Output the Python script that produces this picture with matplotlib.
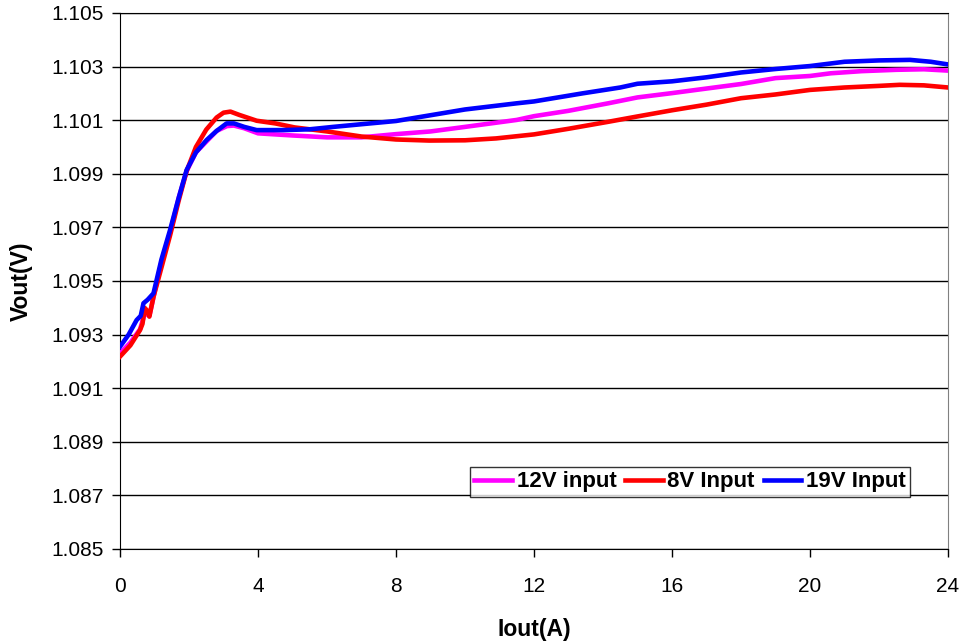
import matplotlib
matplotlib.use("Agg")
import matplotlib.pyplot as plt
import numpy as np

plt.rcParams['font.family'] = ['Liberation Sans', 'DejaVu Sans']

# 12V input (magenta)
i_12v = [0, 0.3, 0.58, 0.72, 0.85, 0.97, 1.2, 1.45, 1.7, 1.93, 2.2, 2.5, 2.8, 3.1, 3.3, 3.6,
         4, 5, 6, 7, 8, 9, 10, 11.5, 12, 13, 14.15, 15, 16, 16.7, 18, 19, 20, 20.6, 21.5,
         22.5, 23.3, 24]
v_12v = [1.0923, 1.0927, 1.0932, 1.0938, 1.0937, 1.0944, 1.0957, 1.0968, 1.0981, 1.0991,
         1.0998, 1.1002, 1.1006, 1.10078, 1.1008, 1.1007, 1.10051, 1.10043, 1.10036, 1.10036,
         1.10048, 1.10058, 1.10075, 1.10101, 1.10115, 1.10135, 1.10163, 1.10185, 1.10201,
         1.10213, 1.10235, 1.10257, 1.10265, 1.10275, 1.10283, 1.10288, 1.1029, 1.10285]

# 8V input (red)
i_8v = [0, 0.3, 0.58, 0.65, 0.72, 0.78, 0.85, 0.97, 1.2, 1.45, 1.7, 1.93, 2.2, 2.5, 2.8, 3.0,
        3.2, 3.45, 3.96, 4.5, 5.06, 6, 7, 8, 8.96, 10, 10.9, 12, 13, 14.15, 15, 16, 17, 18,
        19, 20, 21, 22, 22.6, 23.3, 24]
v_8v = [1.09218, 1.0926, 1.09317, 1.0934, 1.09399, 1.0939, 1.09367, 1.09441, 1.0955, 1.0967,
        1.098, 1.0991, 1.1, 1.10065, 1.1011, 1.10128, 1.10132, 1.1012, 1.10098, 1.10088,
        1.10073, 1.10058, 1.10039, 1.10028, 1.10024, 1.10025, 1.10032, 1.10047, 1.10068,
        1.10094, 1.10114, 1.10137, 1.10158, 1.10182, 1.10196, 1.10213, 1.10222, 1.10228,
        1.10232, 1.1023, 1.10222]

# 19V input (blue)
i_19v = [0, 0.25, 0.48, 0.6, 0.68, 0.8, 0.97, 1.2, 1.45, 1.7, 1.93, 2.2, 2.51, 2.8, 3.09,
         3.3, 3.6, 3.96, 4.73, 5.5, 6.18, 7.0, 8, 10, 11.5, 12, 13.4, 14.5, 15, 16, 17, 18,
         19, 20, 21, 22, 22.9, 23.5, 24]
v_19v = [1.09255, 1.093, 1.09354, 1.0937, 1.09417, 1.0943, 1.09454, 1.0958, 1.0969, 1.0981,
         1.09914, 1.0998, 1.10026, 1.1006, 1.10088, 1.10088, 1.10075, 1.10063, 1.10063,
         1.10066, 1.10075, 1.10085, 1.10097, 1.1014, 1.10163, 1.1017, 1.102, 1.10222,
         1.10236, 1.10245, 1.1026, 1.10278, 1.10291, 1.10302, 1.10318, 1.10323, 1.10325,
         1.10318, 1.10308]

x_ticks = [0, 4, 8, 12, 16, 20, 24]
y_ticks = [1.085, 1.087, 1.089, 1.091, 1.093, 1.095, 1.097, 1.099, 1.101, 1.103, 1.105]

fig = plt.figure(figsize=(9.61, 6.43), dpi=100)
ax = fig.add_axes([0.1249, 0.1462, 0.8616, 0.8336])

for y in y_ticks:
    ax.axhline(y, color='black', lw=1, zorder=1)

ax.plot(i_12v, v_12v, color='#FF00FF', lw=3.3, label='12V input', zorder=3)
ax.plot(i_8v, v_8v, color='#FF0000', lw=3.3, label='8V Input', zorder=4)
ax.plot(i_19v, v_19v, color='#0000FF', lw=3.3, label='19V Input', zorder=5)

ax.set_xlim(0, 24)
ax.set_ylim(1.085, 1.105)
ax.set_xticks(x_ticks)
ax.set_yticks(y_ticks)
ax.set_yticklabels(['%.3f' % v for v in y_ticks])
ax.tick_params(axis='both', labelsize=15, direction='out', length=6, width=1, color='black')
ax.tick_params(axis='x', pad=14)
ax.tick_params(axis='y', pad=6)

ax.spines['top'].set_color('black')
ax.spines['right'].set_color('#808080')
ax.spines['left'].set_color('black')
ax.spines['bottom'].set_color('black')

ax.set_xlabel('Iout(A)', fontsize=16.5, fontweight='bold', labelpad=16)
ax.set_ylabel('Vout(V)', fontsize=16.5, fontweight='bold', labelpad=13)

leg = ax.legend(loc='center', bbox_to_anchor=(690 / 961, 1 - 482 / 643),
                bbox_transform=fig.transFigure, ncol=3, frameon=True, fancybox=False,
                prop={'weight': 'bold', 'size': 16}, handlelength=1.7, handletextpad=0.2,
                columnspacing=0.4, borderpad=0.2, borderaxespad=0)
leg.get_frame().set_edgecolor('black')
leg.get_frame().set_linewidth(1)
leg.set_zorder(10)

fig.savefig('out.png', dpi=100)
